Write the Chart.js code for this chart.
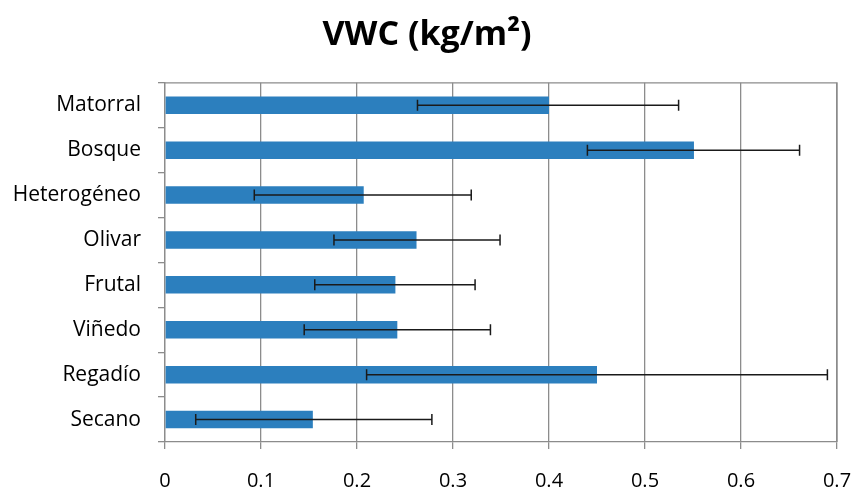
<!DOCTYPE html>
<html>
<head>
<meta charset="utf-8">
<script src="https://cdn.jsdelivr.net/npm/chart.js@4/dist/chart.umd.min.js"></script>
<style>
html,body{margin:0;padding:0;background:#fff;}
#wrap{width:854px;height:491px;}
</style>
</head>
<body>
<div id="wrap"><canvas id="c" width="854" height="491"></canvas></div>
<script>
const categories = ["Matorral","Bosque","Heterogéneo","Olivar","Frutal","Viñedo","Regadío","Secano"];
const vwc = [0.400, 0.551, 0.207, 0.262, 0.240, 0.242, 0.450, 0.154];
const errLow = [0.263, 0.440, 0.093, 0.176, 0.156, 0.145, 0.210, 0.032];
const errHigh = [0.535, 0.661, 0.319, 0.349, 0.323, 0.339, 0.690, 0.278];
const xTicks = [0, 0.1, 0.2, 0.3, 0.4, 0.5, 0.6, 0.7];

const FONT = "'Open Sans', sans-serif";

const errorBars = {
  id: 'errorBars',
  afterDatasetsDraw(chart) {
    const ctx = chart.ctx, xs = chart.scales.x, ys = chart.scales.y;
    ctx.save();
    ctx.strokeStyle = '#1a1a1a';
    ctx.lineWidth = 1.5;
    for (let i = 0; i < categories.length; i++) {
      const y = ys.getPixelForValue(i);
      const x1 = xs.getPixelForValue(errLow[i]);
      const x2 = xs.getPixelForValue(errHigh[i]);
      ctx.beginPath();
      ctx.moveTo(x1, y); ctx.lineTo(x2, y);
      ctx.moveTo(x1, y - 5.5); ctx.lineTo(x1, y + 5.5);
      ctx.moveTo(x2, y - 5.5); ctx.lineTo(x2, y + 5.5);
      ctx.stroke();
    }
    ctx.restore();
  }
};

const frame = {
  id: 'frame',
  beforeDatasetsDraw(chart) {
    const a = chart.chartArea, ctx = chart.ctx;
    ctx.save();
    ctx.strokeStyle = '#8c8c8c';
    ctx.lineWidth = 1.3;
    ctx.beginPath();
    ctx.moveTo(a.left, a.top); ctx.lineTo(a.right, a.top); ctx.lineTo(a.right, a.bottom);
    ctx.stroke();
    ctx.restore();
  }
};

new Chart(document.getElementById('c'), {
  type: 'bar',
  data: {
    labels: categories,
    datasets: [{
      data: vwc,
      backgroundColor: '#2c7fbe',
      borderWidth: 0,
      barPercentage: 0.39,
      categoryPercentage: 1.0
    }]
  },
  options: {
    indexAxis: 'y',
    responsive: false,
    animation: false,
    devicePixelRatio: 1,
    layout: { padding: 0 },
    plugins: {
      legend: { display: false },
      tooltip: { enabled: false },
      title: {
        display: true,
        text: 'VWC (kg/m²)',
        color: '#000',
        font: { family: FONT, size: 34, weight: 'bold' },
        padding: { top: 15, bottom: 27 }
      }
    },
    scales: {
      x: {
        min: 0, max: 0.7,
        afterBuildTicks(scale) { scale.ticks = xTicks.map(v => ({ value: v })); },
        ticks: {
          color: '#000',
          font: { family: FONT, size: 20 },
          padding: 20,
          maxRotation: 0,
          callback: (v) => String(Math.round(v * 10) / 10)
        },
        grid: { color: '#8c8c8c', lineWidth: 1.3, tickLength: 7 },
        border: { color: '#8c8c8c', width: 1.3 },
        afterFit(scale) { scale.height = 49; scale.paddingRight = 17; scale.paddingLeft = 0; }
      },
      y: {
        ticks: {
          color: '#000',
          font: { family: FONT, size: 21 },
          padding: 17
        },
        grid: { offset: true, drawOnChartArea: false, color: '#8c8c8c', lineWidth: 1.3, tickLength: 7 },
        border: { color: '#8c8c8c', width: 1.3 },
        afterFit(scale) { scale.width = 165; scale.paddingTop = 0; scale.paddingBottom = 0; }
      }
    }
  },
  plugins: [frame, errorBars]
});
</script>
</body>
</html>
